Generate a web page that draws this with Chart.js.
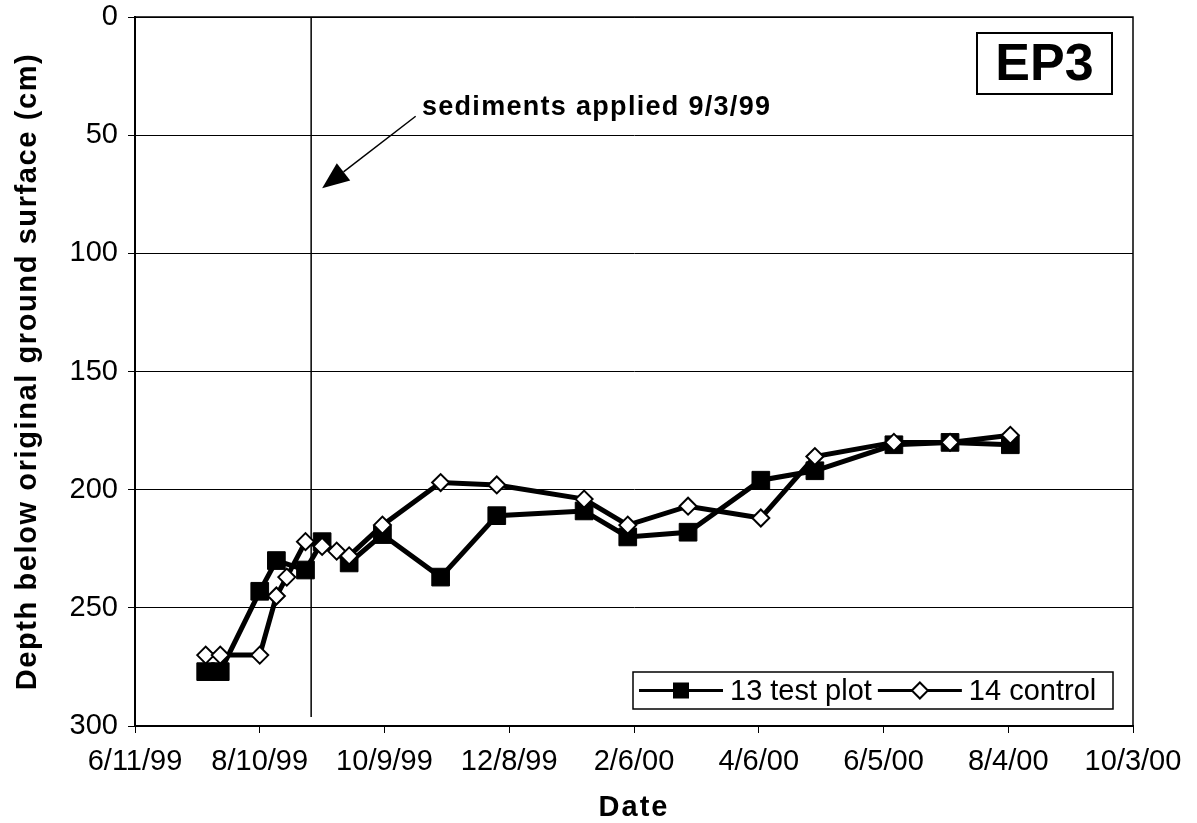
<!DOCTYPE html>
<html><head><meta charset="utf-8">
<script src="https://cdn.jsdelivr.net/npm/chart.js@4.4.1/dist/chart.umd.min.js"></script>
<style>html,body{margin:0;padding:0;background:#fff;} canvas{display:block;}</style>
</head><body>
<canvas id="c" width="1197" height="823"></canvas>
<script>
// ---- data ----
const xTickLabels = ['6/11/99','8/10/99','10/9/99','12/8/99','2/6/00','4/6/00','6/5/00','8/4/00','10/3/00'];
const yTickValues = [0, 50, 100, 150, 200, 250, 300];

const testDates = ['7/15/99','7/22/99','8/10/99','8/18/99','9/1/99','9/9/99','9/22/99','10/8/99','11/5/99','12/2/99','1/13/00','2/3/00','3/3/00','4/7/00','5/3/00','6/10/00','7/7/00','8/5/00'];
const testDepth = [277, 277, 243, 230, 234, 222, 231, 219, 237, 211, 209, 220, 218, 196, 192, 181, 180, 181];

const controlDates = ['7/15/99','7/22/99','8/10/99','8/18/99','8/23/99','9/1/99','9/9/99','9/16/99','9/22/99','10/8/99','11/5/99','12/2/99','1/13/00','2/3/00','3/3/00','4/7/00','5/3/00','6/10/00','7/7/00','8/5/00'];
const controlDepth = [270, 270, 270, 245, 237, 222, 224, 226, 228, 215, 197, 198, 204, 215, 207, 212, 186, 180, 180, 177];

const seriesNames = ['13 test plot', '14 control'];
const sedimentDate = '9/3/99';
const sedimentText = 'sediments applied 9/3/99';
const plotLabel = 'EP3';
const yTitle = 'Depth below original ground surface (cm)';
const xTitle = 'Date';

// ---- helpers ----
const FONT = '"Liberation Sans", Arial, sans-serif';
const BASE = Date.UTC(1999, 5, 11);
function toDay(s) {
  const [m, d, y] = s.split('/').map(Number);
  const yr = y < 50 ? 2000 + y : 1900 + y;
  return (Date.UTC(yr, m - 1, d) - BASE) / 86400000;
}
const testPts = testDates.map((d, i) => ({ x: toDay(d), y: testDepth[i] }));
const controlPts = controlDates.map((d, i) => ({ x: toDay(d), y: controlDepth[i] }));

function drawDiamond(ctx, cx, cy, r) {
  ctx.beginPath();
  ctx.moveTo(cx - r, cy); ctx.lineTo(cx, cy - r); ctx.lineTo(cx + r, cy); ctx.lineTo(cx, cy + r);
  ctx.closePath();
  ctx.fillStyle = '#fff'; ctx.fill();
  ctx.lineWidth = 2; ctx.strokeStyle = '#000'; ctx.stroke();
}

const decor = {
  id: 'decor',
  beforeDatasetsDraw(chart) {
    const { ctx, chartArea: a, scales: { x } } = chart;
    const xp = x.getPixelForValue(toDay(sedimentDate)) + 1.5;
    ctx.save();
    ctx.strokeStyle = '#000'; ctx.lineWidth = 1.5;
    ctx.beginPath(); ctx.moveTo(xp, a.top); ctx.lineTo(xp, a.bottom - 9); ctx.stroke();
    ctx.restore();
  },
  afterDraw(chart) {
    const { ctx, chartArea: a, scales: { x, y } } = chart;
    ctx.save();
    // plot frame
    ctx.strokeStyle = '#000'; ctx.lineWidth = 1.5;
    ctx.strokeRect(a.left, a.top, a.right - a.left, a.bottom - a.top);

    // arrow
    const x1 = x.getPixelForValue(135), y1 = y.getPixelForValue(42);
    const x2 = x.getPixelForValue(90), y2 = y.getPixelForValue(72.5);
    const ang = Math.atan2(y2 - y1, x2 - x1);
    const hl = 27, hw = 11;
    const bx = x2 - hl * Math.cos(ang), by = y2 - hl * Math.sin(ang);
    ctx.lineWidth = 1.5;
    ctx.beginPath(); ctx.moveTo(x1, y1); ctx.lineTo(bx, by); ctx.stroke();
    ctx.beginPath();
    ctx.moveTo(x2, y2);
    ctx.lineTo(bx + hw * Math.sin(ang), by - hw * Math.cos(ang));
    ctx.lineTo(bx - hw * Math.sin(ang), by + hw * Math.cos(ang));
    ctx.closePath(); ctx.fillStyle = '#000'; ctx.fill();

    // annotation text
    ctx.fillStyle = '#000';
    ctx.font = `bold 27px ${FONT}`;
    ctx.letterSpacing = '1.3px';
    ctx.textAlign = 'left'; ctx.textBaseline = 'alphabetic';
    ctx.fillText(sedimentText, x.getPixelForValue(138), y.getPixelForValue(41.5));
    ctx.letterSpacing = '0px';

    // EP3 box
    const bw = 135, bh = 61, bxr = a.right - 21, byt = a.top + 16;
    ctx.fillStyle = '#fff'; ctx.fillRect(bxr - bw, byt, bw, bh);
    ctx.strokeStyle = '#000'; ctx.lineWidth = 2;
    ctx.strokeRect(bxr - bw, byt, bw, bh);
    ctx.fillStyle = '#000';
    ctx.font = `bold 52px ${FONT}`;
    ctx.textAlign = 'center'; ctx.textBaseline = 'middle';
    ctx.fillText(plotLabel, bxr - bw / 2, byt + bh / 2 + 2);

    // legend
    const lx0 = a.right - 500, lx1 = a.right - 20, ly0 = a.bottom - 54, ly1 = a.bottom - 17;
    const lyc = (ly0 + ly1) / 2;
    ctx.fillStyle = '#fff'; ctx.fillRect(lx0, ly0, lx1 - lx0, ly1 - ly0);
    ctx.strokeStyle = '#000'; ctx.lineWidth = 1.5;
    ctx.strokeRect(lx0, ly0, lx1 - lx0, ly1 - ly0);
    ctx.font = `29px ${FONT}`;
    ctx.textAlign = 'left'; ctx.textBaseline = 'middle';
    let cx = lx0 + 6;
    // item 1
    ctx.lineWidth = 3; ctx.strokeStyle = '#000';
    ctx.beginPath(); ctx.moveTo(cx, lyc); ctx.lineTo(cx + 84, lyc); ctx.stroke();
    ctx.fillStyle = '#000'; ctx.fillRect(cx + 42 - 8, lyc - 8, 16, 16);
    cx += 91;
    ctx.fillText(seriesNames[0], cx, lyc + 1);
    cx += ctx.measureText(seriesNames[0]).width + 6;
    // item 2
    ctx.lineWidth = 3;
    ctx.beginPath(); ctx.moveTo(cx, lyc); ctx.lineTo(cx + 84, lyc); ctx.stroke();
    drawDiamond(ctx, cx + 42, lyc, 8);
    cx += 91;
    ctx.fillStyle = '#000';
    ctx.fillText(seriesNames[1], cx, lyc + 1);

    // axis titles
    ctx.font = `bold 29px ${FONT}`;
    ctx.letterSpacing = '1.6px';
    ctx.textAlign = 'center'; ctx.textBaseline = 'middle';
    ctx.save();
    ctx.translate(28, (a.top + a.bottom) / 2);
    ctx.rotate(-Math.PI / 2);
    ctx.fillText(yTitle, 0, 0);
    ctx.restore();
    ctx.letterSpacing = '2px';
    ctx.fillText(xTitle, (a.left + a.right) / 2, 808);
    ctx.letterSpacing = '0px';
    ctx.restore();
  }
};

new Chart(document.getElementById('c'), {
  type: 'line',
  data: {
    datasets: [
      {
        label: seriesNames[0], data: testPts, order: 1,
        borderColor: '#000', backgroundColor: '#000', borderWidth: 5, tension: 0,
        pointStyle: 'rect', pointRadius: 12.5, pointBackgroundColor: '#000',
        pointBorderColor: '#000', pointBorderWidth: 1
      },
      {
        label: seriesNames[1], data: controlPts, order: 0,
        borderColor: '#000', backgroundColor: '#fff', borderWidth: 5, tension: 0,
        pointStyle: 'rectRot', pointRadius: 8.5, pointBackgroundColor: '#fff',
        pointBorderColor: '#000', pointBorderWidth: 2
      }
    ]
  },
  options: {
    responsive: false, animation: false, events: [],
    layout: { padding: { top: 17, right: 64, left: 0, bottom: 0 } },
    plugins: { legend: { display: false }, tooltip: { enabled: false } },
    scales: {
      x: {
        type: 'linear', min: 0, max: 480,
        ticks: {
          stepSize: 60, autoSkip: false, maxRotation: 0, minRotation: 0, padding: 12,
          color: '#000', font: { family: FONT, size: 29 },
          callback: (v) => xTickLabels[Math.round(v / 60)]
        },
        grid: { drawOnChartArea: false, drawTicks: true, tickLength: 7, color: '#000', lineWidth: 1 },
        border: { color: '#000', width: 2 },
        afterFit(s) { s.height = 97; }
      },
      y: {
        reverse: true, min: 0, max: 300,
        afterBuildTicks(s) { s.ticks = yTickValues.map(v => ({ value: v })); },
        ticks: { color: '#000', font: { family: FONT, size: 29 }, padding: 10 },
        grid: { color: '#000', lineWidth: 1, tickLength: 7 },
        border: { color: '#000', width: 2 },
        afterFit(s) { s.width = 135; s.paddingTop = 0; s.paddingBottom = 0; }
      }
    }
  },
  plugins: [decor]
});
</script>
</body></html>
